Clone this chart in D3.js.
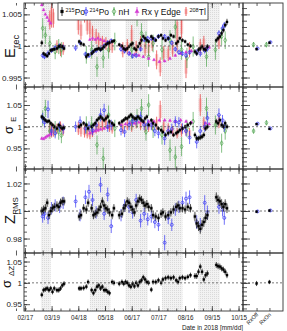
<!DOCTYPE html>
<html>
<head>
<meta charset="utf-8">
<script src="https://cdn.jsdelivr.net/npm/d3@7"></script>
<style>
  body { margin: 0; background: #fff; }
  svg { display: block; font-family: 'Liberation Sans', Arial, sans-serif; }
</style>
</head>
<body>
<div id="chart"></div>
<script>
// dates are day-of-year 2018 (Jan 1 = 0)
const dateTickLabels = ['02/17','03/19','04/18','05/18','06/17','07/17','08/16','09/15','10/15']
const rxStates = ['RxOff', 'RxOn']
const bandStart = [65, 120, 160, 201, 242]
const bandEnd   = [76, 143, 185, 224, 266]

const eRecTicks = [0.995, 1, 1.005]
const sigETicks = [0.95, 1, 1.05]
const zRmsTicks = [0.98, 1, 1.02]
const sigDzTicks = [0.95, 1, 1.05]

// 215Po (black)
const po215Day = [66,68,70,72,74,76,78,80,83,85,87,89,91,
  108,110,113,116,118,122,124,126,128,130,132,134,136,138,140,142,145,147,
  153,156,158,160,162,164,166,168,170,172,174,176,178,180,182,184,186,
  189,191,194,197,200,202,205,208,211,214,217,219,221,224,227,230,233,
  238,240,242,244,246,248,250,252,
  262,264,266,268,270,272,274]
const po215E = [1.0005,0.9988,0.9986,0.9984,0.9988,0.9993,0.9994,0.9995,0.9996,0.9999,1.0000,0.9999,0.9996,
  1.0007,1.0004,1.0002,0.9983,0.9986,0.9988,0.9991,0.9994,0.9995,0.9996,0.9994,0.9996,0.9999,1.0002,1.0004,1.0005,1.0007,1.0008,
  1.0002,1.0000,0.9996,0.9994,0.9996,0.9999,1.0002,1.0004,0.9996,0.9994,0.9999,1.0004,1.0009,1.0015,1.0012,1.0009,1.0007,
  1.0015,1.0012,1.0009,1.0015,1.0017,1.0012,1.0009,1.0012,1.0017,1.0015,1.0004,1.0007,1.0012,1.0009,1.0007,1.0002,1.0000,
  0.9991,0.9988,0.9994,0.9996,0.9999,0.9995,0.9994,0.9999,
  1.0009,1.0012,1.0015,1.0020,1.0025,1.0033,1.0038]
const po215ErrE = [4,3,3,3,3,3,3,3,3,3,3,3,3,
  3,3,3,4,3,3,3,3,3,3,3,3,3,3,3,3,3,3,
  3,3,3,3,3,3,3,3,3,3,3,3,3,3,3,3,3,
  3,3,3,3,3,3,3,3,3,3,3,3,3,3,3,3,3,
  4,4,4,4,4,4,4,4,
  4,4,4,4,4,4,5] // x1e-4
const po215Sig = [1.023,1.019,1.015,1.012,1.013,1.008,1.004,1.000,0.996,1.004,1.000,0.996,0.998,
  1.000,1.004,1.008,1.004,0.996,1.000,1.004,1.008,1.015,1.019,1.023,1.019,1.015,1.019,1.023,1.012,1.008,1.004,
  1.008,1.012,1.015,1.019,1.019,1.023,1.027,1.023,1.019,1.019,1.023,1.019,1.015,1.012,1.019,1.023,1.004,
  1.015,1.008,1.004,0.996,0.992,0.988,0.981,0.985,0.988,0.981,0.985,0.988,0.992,0.996,1.000,1.004,1.008,
  0.981,0.973,0.973,0.975,0.977,0.981,0.996,1.000,
  1.012,1.008,1.015,1.004,1.000,1.008,1.000]
const po215ErrSig = [5,5,5,5,5,5,5,5,5,5,5,5,5,
  5,5,5,5,5,5,5,5,5,5,5,5,5,5,5,5,5,5,
  5,5,5,5,5,5,5,5,5,5,5,5,5,5,5,5,5,
  5,5,5,5,5,5,5,5,5,5,5,5,5,5,5,5,5,
  6,6,6,6,6,6,6,6,
  6,6,6,6,6,6,6] // x1e-3
const po215Z = [1.000,1.001,1.002,1.006,0.997,1.000,1.002,1.003,1.004,1.003,1.006,1.007,1.007,
  0.996,0.997,1.002,1.001,1.006,1.002,0.997,0.998,0.999,1.001,1.003,1.007,1.004,1.002,1.001,0.999,0.997,1.002,
  0.997,0.998,1.002,1.004,1.007,1.006,1.003,1.001,0.999,1.004,1.007,1.009,1.008,1.006,1.004,1.005,1.003,
  1.002,0.997,0.996,0.995,0.998,0.999,0.996,0.997,0.999,1.001,1.003,1.004,1.002,1.002,1.001,1.003,1.002,
  0.996,0.991,0.989,0.987,0.990,0.992,0.995,0.997,
  1.010,1.008,1.007,1.005,1.003,1.005,1.002]
const po215ErrZ = [30,30,30,30,30,30,30,30,30,30,30,30,30,
  30,30,30,30,30,30,30,30,30,30,30,30,30,30,30,30,30,30,
  30,30,30,30,30,30,30,30,30,30,30,30,30,30,30,30,30,
  30,30,30,30,30,30,30,30,30,30,30,30,30,30,30,30,30,
  35,35,35,35,35,35,35,35,
  35,35,35,35,35,35,35] // x1e-4
const po215DZ = [0.972,0.983,0.985,0.987,0.983,0.987,0.979,0.987,0.983,0.983,0.987,0.994,0.998,
  0.987,0.987,0.988,0.991,1.002,0.983,0.976,0.983,0.991,0.994,0.987,0.991,0.983,0.983,0.979,0.976,1.002,1.000,
  0.998,1.002,0.998,1.002,1.000,0.994,0.991,0.998,0.992,1.000,0.994,1.002,1.006,1.013,1.008,1.002,1.000,
  0.984,1.002,1.002,1.006,1.000,1.008,1.011,1.013,1.011,1.013,1.006,1.002,1.011,1.013,1.011,1.014,1.018,
  1.016,1.016,1.026,1.038,1.026,1.008,1.018,1.022,
  1.042,1.039,1.038,1.034,1.031,1.026,1.018]
const po215ErrDZ = [6,6,6,6,6,6,6,6,6,6,6,6,6,
  6,6,6,6,6,6,6,6,6,6,6,6,6,6,6,6,6,6,
  6,6,6,6,6,6,6,6,6,6,6,6,6,6,6,6,6,
  6,6,6,6,6,6,6,6,6,6,6,6,6,6,6,6,6,
  7,7,7,7,7,7,7,7,
  7,7,7,7,7,7,7] // x1e-3

// 214Po (blue)
const po214Day = [67,69,73,77,81,86,90, 104,109,115,119,123,127,132,136,140,144,
  155,159,164,168,172,177,181,185, 189,193,197,204,208,212,216,220,224,228,232,
  240,244,249,252, 265,269,271]
const po214E = [0.9985,0.9983,0.9988,0.9993,0.9997,1.0000,0.9998,
  0.9997,1.0005,0.9987,0.9985,0.9990,0.9993,0.9995,1.0000,1.0005,1.0008,
  0.9995,0.9992,0.9988,0.9984,0.9985,0.9995,1.0010,1.0012,
  1.0012,1.0010,1.0015,1.0015,1.0012,1.0005,0.9995,0.9990,0.9988,0.9985,0.9990,
  0.9990,0.9988,0.9993,0.9996, 1.0020,1.0028,1.0033]
const po214ErrE = [4,4,5,4,4,4,4, 5,4,4,4,4,4,4,4,4,4, 4,4,4,4,4,4,4,4,
  4,4,4,4,4,4,4,4,4,4,4, 5,5,5,5, 5,5,5] // x1e-4
const po214Sig = [1.020,1.010,1.040,0.990,0.985,1.000,0.995,
  1.000,1.012,0.996,1.000,0.992,1.004,1.027,1.038,1.000,1.004,
  0.992,0.988,1.004,1.012,1.015,1.023,1.004,1.005,
  1.004,0.990,0.985,0.973,0.990,0.995,1.012,1.010,0.996,0.990,0.975,
  0.965,0.990,1.000,1.020, 1.027,1.015,1.000]
const po214ErrSig = [12,12,20,12,12,12,12, 12,12,12,12,12,12,15,15,12,12,
  12,12,12,12,12,12,12,12, 12,12,12,15,12,12,12,12,12,12,15, 15,12,12,15, 15,12,12] // x1e-3
const po214Z = [0.996,0.998,0.995,1.002,1.004,1.003,1.006,
  1.007,0.997,1.010,1.014,1.008,0.999,1.019,0.998,1.012,0.989,
  0.997,1.004,1.003,0.999,1.008,0.993,0.998,0.994,
  0.996,0.992,0.990,0.977,0.995,0.990,1.001,1.003,1.006,1.009,1.010,
  0.992,0.990,1.006,0.999, 1.003,1.001,0.995]
const po214ErrZ = [45,45,45,45,45,45,45, 45,45,50,50,45,45,55,45,50,50,
  45,45,45,45,45,50,45,45, 45,45,45,55,45,45,45,45,45,50,50, 50,50,55,50, 50,50,50] // x1e-4

// nH (green)
const nhDay = [67,70,75,81,85,88,116,122,128,135,141,148,167,173,178,183,186,191,201,210,216,223,229,236,251,261,268,272]
const nhE = [1.0028,1.0017,1.0004,0.9991,0.9999,0.9994,0.9986,0.9994,0.9967,0.9981,0.9994,1.0007,0.9994,1.0049,
  1.0020,1.0009,0.9983,1.0004,0.9994,1.0009,1.0030,0.9994,0.9981,0.9999,0.9983,0.9994,1.0015,1.0009]
const nhErrE = [16,14,12,12,12,12,14,14,16,16,14,14,14,18,16,14,16,14,16,16,18,16,16,16,16,16,14,14] // x1e-4
const nhSig = [1.020,1.042,0.990,0.995,0.988,0.980,1.004,1.004,0.958,0.927,1.027,0.996,1.012,1.019,
  1.042,0.988,1.050,0.996,0.981,0.946,0.930,0.954,0.996,1.012,1.042,1.004,0.962,0.990]
const nhErrSig = [18,20,18,18,18,18,20,20,22,25,22,20,20,22,22,20,25,22,22,25,25,22,20,22,25,22,22,20] // x1e-3

// Rx gamma edge (magenta)
const rxDay = [66,68,70,72,74,76,120,123,126,129,132,136,140,155,160,165,170,175,180,186,192,198,204,210,216,222,228,234,250,254]
const rxE = [1.0065,1.0057,1.0050,1.0045,1.0040,1.0036,1.0010,1.0012,1.0010,1.0012,1.0010,1.0008,1.0005,
  1.0000,0.9995,0.9988,0.9986,0.9985,0.9983,0.9980,0.9978,0.9975,0.9976,0.9980,0.9985,0.9988,0.9990,0.9992,0.9995,0.9998]
const rxErrE = [2,2,2,2,2,2,2,2,2,2,2,2,2,2,2,2,2,2,2,2,2,2,2,2,2,2,2,2,2,2] // x1e-4
const rxSig = [0.973,0.972,0.975,0.978,0.980,0.983,0.985,0.988,0.990,0.992,0.994,0.996,0.998,
  1.004,1.006,1.008,1.008,1.010,1.010,1.012,1.012,1.015,1.015,1.014,1.012,1.015,1.012,1.010,1.008,1.006]
const rxErrSig = [3,3,3,3,3,3,3,3,3,3,3,3,3,3,3,3,3,3,3,3,3,3,3,3,3,3,3,3,3,3] // x1e-3

// 208Tl (red)
const tlDay = [75,77,79,83,87,90,107,110,114,117,120,123,127,130,134,138,142,145,157,162,167,172,177,182,
  186,190,195,199,203,208,213,218,223,228,232,244,248,265]
const tlE = [1.0041,1.0049,1.0044,0.9999,0.9994,0.9996,
  1.0036,1.0025,1.0057,1.0033,1.0028,1.0020,1.0015,1.0009,1.0006,1.0004,1.0000,0.9999,
  0.9994,0.9999,1.0015,0.9996,1.0004,0.9996,
  0.9996,1.0004,0.9978,0.9967,0.9988,0.9988,0.9995,1.0020,1.0030,0.9967,0.9994,
  0.9999,1.0004, 1.0007]
const tlErrE = [15,20,15,10,10,10, 18,15,20,15,15,12,12,12,10,10,10,10, 12,12,18,12,12,12,
  12,12,15,15,12,12,12,30,18,18,12, 12,12, 12] // x1e-4
const tlSig = [0.996,0.990,0.992,0.995,1.000,0.992,
  0.996,0.992,0.990,0.985,0.983,0.988,0.996,1.000,1.004,1.012,1.000,0.996,
  0.996,1.004,1.000,1.008,1.004,1.000,
  1.000,1.004,1.008,1.035,1.000,0.996,0.990,0.985,0.992,0.992,0.985,
  1.050,1.008, 1.012]
const tlErrSig = [12,15,15,12,12,12, 15,15,15,12,12,12,12,12,15,15,12,12, 12,12,12,12,12,12,
  12,12,15,25,15,12,12,12,15,12,12, 25,15, 15] // x1e-3

// Rx off / on summary (right pad)
const po215StateE = [0.9995, 1.0005], po215StateErrE = [2, 2]
const po214StateE = [0.9996, 1.0006], po214StateErrE = [2, 2]
const nhStateE = [1.0002, 1.0002], nhStateErrE = [4, 4]
const po215StateSig = [1.006, 0.995], po215StateErrSig = [2, 2]
const po214StateSig = [1.007, 0.996], po214StateErrSig = [2, 2]
const nhStateSig = [0.990, 1.009], nhStateErrSig = [5, 5]
const po215StateZ = [0.9995, 1.0003], po215StateErrZ = [8, 8]
const po214StateZ = [0.9997, 1.0004], po214StateErrZ = [8, 8]
const po215StateDZ = [0.9985, 1.002], po215StateErrDZ = [6, 5]

const W = 287, H = 331
const L = 24, R = 243, SR = 283
const doy = d => d3.timeDay.offset(new Date(2018, 0, 1), d)
const parseTick = d3.timeParse('%m/%d/%Y')
const majorDates = dateTickLabels.map(s => parseTick(s + '/2018'))

const xMain = d3.scaleTime().domain([doy(46), doy(292)]).range([L, R])
const xSide = d3.scalePoint().domain(rxStates).range([R, SR]).padding(1.05)

const styles = {
  po215: {color: '#000', sym: d3.symbolSquare, size: 5, fill: true},
  po214: {color: '#3535f5', sym: d3.symbolCircle, size: 7, fill: false},
  nh: {color: '#4fa54f', sym: d3.symbolDiamond, size: 7, fill: false},
  rx: {color: '#d43cd4', sym: d3.symbolTriangle, size: 5, fill: true},
  tl: {color: '#e53333', sym: null}
}

const panels = [
  {top: 3, bottom: 87, domain: [0.9935, 1.0068], ticks: eRecTicks, minor: 0.001,
   series: [
     {key: 'tl', days: tlDay, vals: tlE, errs: tlErrE, unit: 1e-4, box: '#f7a8a8'},
     {key: 'nh', days: nhDay, vals: nhE, errs: nhErrE, unit: 1e-4},
     {key: 'rx', days: rxDay, vals: rxE, errs: rxErrE, unit: 1e-4},
     {key: 'po214', days: po214Day, vals: po214E, errs: po214ErrE, unit: 1e-4},
     {key: 'po215', days: po215Day, vals: po215E, errs: po215ErrE, unit: 1e-4}],
   side: [
     {key: 'nh', vals: nhStateE, errs: nhStateErrE, unit: 1e-4, dx: -3},
     {key: 'po214', vals: po214StateE, errs: po214StateErrE, unit: 1e-4, dx: 1},
     {key: 'po215', vals: po215StateE, errs: po215StateErrE, unit: 1e-4, dx: 0}]},
  {top: 87, bottom: 169, domain: [0.9025, 1.0915], ticks: sigETicks, minor: 0.01,
   series: [
     {key: 'tl', days: tlDay, vals: tlSig, errs: tlErrSig, unit: 1e-3, box: '#f7a8a8'},
     {key: 'nh', days: nhDay, vals: nhSig, errs: nhErrSig, unit: 1e-3},
     {key: 'rx', days: rxDay, vals: rxSig, errs: rxErrSig, unit: 1e-3},
     {key: 'po214', days: po214Day, vals: po214Sig, errs: po214ErrSig, unit: 1e-3},
     {key: 'po215', days: po215Day, vals: po215Sig, errs: po215ErrSig, unit: 1e-3}],
   side: [
     {key: 'nh', vals: nhStateSig, errs: nhStateErrSig, unit: 1e-3, dx: -3},
     {key: 'po214', vals: po214StateSig, errs: po214StateErrSig, unit: 1e-3, dx: 1},
     {key: 'po215', vals: po215StateSig, errs: po215StateErrSig, unit: 1e-3, dx: 0}]},
  {top: 169, bottom: 253, domain: [0.9695, 1.0305], ticks: zRmsTicks, minor: 0.005,
   series: [
     {key: 'po214', days: po214Day, vals: po214Z, errs: po214ErrZ, unit: 1e-4},
     {key: 'po215', days: po215Day, vals: po215Z, errs: po215ErrZ, unit: 1e-4, box: '#b0b0b0'}],
   side: [
     {key: 'po214', vals: po214StateZ, errs: po214StateErrZ, unit: 1e-4, dx: 1},
     {key: 'po215', vals: po215StateZ, errs: po215StateErrZ, unit: 1e-4, dx: 0}]},
  {top: 253, bottom: 311, domain: [0.934, 1.070], ticks: sigDzTicks, minor: 0.01,
   series: [
     {key: 'po215', days: po215Day, vals: po215DZ, errs: po215ErrDZ, unit: 1e-3}],
   side: [
     {key: 'po215', vals: po215StateDZ, errs: po215StateErrDZ, unit: 1e-3, dx: 0}]}
]

const svg = d3.select('#chart').append('svg').attr('width', W).attr('height', H)
const defs = svg.append('defs')
const pat = defs.append('pattern').attr('id', 'band').attr('patternUnits', 'userSpaceOnUse')
  .attr('width', 2).attr('height', 2)
pat.append('rect').attr('width', 2).attr('height', 2).attr('fill', '#f2f2f2')
pat.append('rect').attr('width', 1).attr('height', 1).attr('fill', '#dadada')

function drawSeries(g, xf, y, s) {
  const st = styles[s.key]
  const pts = s.vals.map((v, i) => ({x: xf(s.days[i]) + (s.dx || 0), v: v, e: s.errs[i] * s.unit}))
  const gg = g.append('g')
  if (s.box) {
    gg.selectAll('rect.box').data(pts).join('rect').attr('class', 'box')
      .attr('x', d => d.x - 1.6).attr('width', 3.2)
      .attr('y', d => y(d.v + d.e * 0.6))
      .attr('height', d => y(d.v - d.e * 0.6) - y(d.v + d.e * 0.6))
      .attr('fill', s.box).attr('opacity', 0.5)
  }
  gg.selectAll('line.err').data(pts).join('line').attr('class', 'err')
    .attr('x1', d => d.x).attr('x2', d => d.x)
    .attr('y1', d => y(d.v - d.e)).attr('y2', d => y(d.v + d.e))
    .attr('stroke', st.color).attr('stroke-width', 0.7)
  if (st.sym) {
    gg.selectAll('path.mk').data(pts).join('path').attr('class', 'mk')
      .attr('transform', d => `translate(${d.x},${y(d.v)})`)
      .attr('d', d3.symbol(st.sym, st.size))
      .attr('fill', st.fill ? st.color : 'none')
      .attr('stroke', st.color).attr('stroke-width', st.fill ? 0.2 : 0.7)
  }
}

function styleAxis(sel) {
  sel.select('.domain').remove()
  sel.selectAll('line').attr('stroke', '#333').attr('stroke-width', 0.8)
  sel.selectAll('text').attr('fill', '#222')
}

panels.forEach((p, pi) => {
  const y = d3.scaleLinear().domain(p.domain).range([p.bottom, p.top])
  const h = p.bottom - p.top
  defs.append('clipPath').attr('id', 'cm' + pi).append('rect')
    .attr('x', L).attr('y', p.top).attr('width', R - L).attr('height', h)
  defs.append('clipPath').attr('id', 'cs' + pi).append('rect')
    .attr('x', R).attr('y', p.top).attr('width', SR - R).attr('height', h)

  const g = svg.append('g')
  const gm = g.append('g').attr('clip-path', `url(#cm${pi})`)
  gm.selectAll('rect.band').data(bandStart).join('rect').attr('class', 'band')
    .attr('x', d => xMain(doy(d)))
    .attr('width', (d, i) => xMain(doy(bandEnd[i])) - xMain(doy(d)))
    .attr('y', p.top).attr('height', h).attr('fill', 'url(#band)')
  g.append('line').attr('x1', L).attr('x2', SR).attr('y1', y(1)).attr('y2', y(1))
    .attr('stroke', '#555').attr('stroke-width', 0.8).attr('stroke-dasharray', '2,2')
  p.series.forEach(s => drawSeries(gm, d => xMain(doy(d)), y, s))

  const gs = g.append('g').attr('clip-path', `url(#cs${pi})`)
  p.side.forEach(s => drawSeries(gs, d => xSide(d), y, Object.assign({days: rxStates}, s)))

  // frames
  g.append('rect').attr('x', L).attr('y', p.top).attr('width', R - L).attr('height', h)
    .attr('fill', 'none').attr('stroke', '#333').attr('stroke-width', 0.9)
  g.append('rect').attr('x', R).attr('y', p.top).attr('width', SR - R).attr('height', h)
    .attr('fill', 'none').attr('stroke', '#333').attr('stroke-width', 0.9)

  // y axes
  const minorTicks = d3.range(Math.ceil(p.domain[0] / p.minor) * p.minor, p.domain[1], p.minor)
  g.append('g').attr('transform', `translate(${L},0)`)
    .call(d3.axisLeft(y).tickValues(p.ticks).tickSize(-6).tickPadding(2).tickFormat(d3.format('~g')))
    .call(styleAxis)
    .selectAll('text').attr('font-size', 8).attr('font-family', "'Liberation Sans', Arial, sans-serif")
  g.append('g').attr('transform', `translate(${L},0)`)
    .call(d3.axisLeft(y).tickValues(minorTicks).tickSize(-3).tickFormat('')).call(styleAxis)
  g.append('g').attr('transform', `translate(${R - 2},0)`)
    .call(d3.axisRight(y).tickValues(p.ticks).tickSize(9).tickFormat('')).call(styleAxis)
  g.append('g').attr('transform', `translate(${R - 1},0)`)
    .call(d3.axisRight(y).tickValues(minorTicks).tickSize(5).tickFormat('')).call(styleAxis)

  // x ticks
  const minorDates = d3.range(37, 292, 10).map(doy)
  const last = pi === panels.length - 1
  const xb = g.append('g').attr('transform', `translate(0,${p.bottom})`)
    .call(d3.axisBottom(xMain).tickValues(majorDates).tickSize(-5).tickPadding(5)
      .tickFormat(last ? d3.timeFormat('%m/%d') : ''))
    .call(styleAxis)
  xb.selectAll('text').attr('font-size', 6.3).attr('font-family', "'Liberation Sans', Arial, sans-serif")
  g.append('g').attr('transform', `translate(0,${p.bottom})`)
    .call(d3.axisBottom(xMain).tickValues(minorDates).tickSize(-2.5).tickFormat('')).call(styleAxis)
  g.append('g').attr('transform', `translate(0,${p.top})`)
    .call(d3.axisTop(xMain).tickValues(majorDates).tickSize(-5).tickFormat('')).call(styleAxis)
  g.append('g').attr('transform', `translate(0,${p.top})`)
    .call(d3.axisTop(xMain).tickValues(minorDates).tickSize(-2.5).tickFormat('')).call(styleAxis)
  g.append('g').attr('transform', `translate(0,${p.bottom})`)
    .call(d3.axisBottom(xSide).tickSize(-3).tickFormat('')).call(styleAxis)
  g.append('g').attr('transform', `translate(0,${p.top})`)
    .call(d3.axisTop(xSide).tickSize(-3).tickFormat('')).call(styleAxis)
})

// Rx state labels
svg.selectAll('text.rx').data(rxStates).join('text').attr('class', 'rx')
  .attr('transform', d => `translate(${xSide(d) + 2},315) rotate(-45)`)
  .attr('text-anchor', 'end').attr('font-size', 5.5).attr('fill', '#222').text(d => d)

svg.append('text').attr('x', R).attr('y', 329.5).attr('text-anchor', 'end')
  .attr('font-size', 6.4).attr('fill', '#222').text('Date in 2018 [mm/dd]')

// y titles
function yTitle(x, y, main, mainSize, sub, subSize, gap) {
  const t = svg.append('text').attr('transform', `translate(${x},${y}) rotate(-90)`).attr('fill', '#111')
  t.append('tspan').attr('font-size', mainSize).text(main)
  t.append('tspan').attr('font-size', subSize).attr('dx', gap).attr('dy', subSize * 0.4).text(sub)
}
yTitle(15, 58, 'E', 15, 'rec', 9.5, 0)
yTitle(12.5, 134, 'σ', 13, 'E', 8, 4)
yTitle(15, 224, 'Z', 15, 'RMS', 8, 0)
yTitle(11, 288, 'σ', 13, 'ΔZ', 8, 4)

// legend
const lg = svg.append('g')
lg.append('rect').attr('x', 58).attr('y', 3).attr('width', 150).attr('height', 17)
  .attr('fill', '#fff').attr('stroke', '#333').attr('stroke-width', 0.8)
const legendItems = [
  {key: 'po215', x: 62, sup: '215', label: 'Po'},
  {key: 'po214', x: 86, sup: '214', label: 'Po'},
  {key: 'nh', x: 114, sup: '', label: 'nH'},
  {key: 'rx', x: 137, sup: '', label: 'Rx γ Edge'},
  {key: 'tl', x: 186, sup: '208', label: 'Tl'}
]
legendItems.forEach(it => {
  const st = styles[it.key]
  if (it.key === 'tl') {
    lg.append('rect').attr('x', it.x - 1.5).attr('y', 9).attr('width', 3).attr('height', 5)
      .attr('fill', '#f7a8a8').attr('opacity', 0.6)
  }
  lg.append('line').attr('x1', it.x).attr('x2', it.x).attr('y1', 7).attr('y2', 16)
    .attr('stroke', st.color).attr('stroke-width', 0.8)
  if (st.sym) {
    lg.append('path').attr('transform', `translate(${it.x},11.5)`).attr('d', d3.symbol(st.sym, st.size + 3))
      .attr('fill', st.fill ? st.color : 'none').attr('stroke', st.color).attr('stroke-width', st.fill ? 0.3 : 0.8)
  }
  const t = lg.append('text').attr('x', it.x + 3.5).attr('y', 15).attr('font-size', 8.5).attr('fill', '#111')
  if (it.sup) {
    t.append('tspan').attr('font-size', 5.5).attr('dy', -3.5).text(it.sup)
    t.append('tspan').attr('dy', 3.5).text(it.label)
  } else {
    t.append('tspan').attr('dx', 1).text(it.label)
  }
})
</script>
</body>
</html>
